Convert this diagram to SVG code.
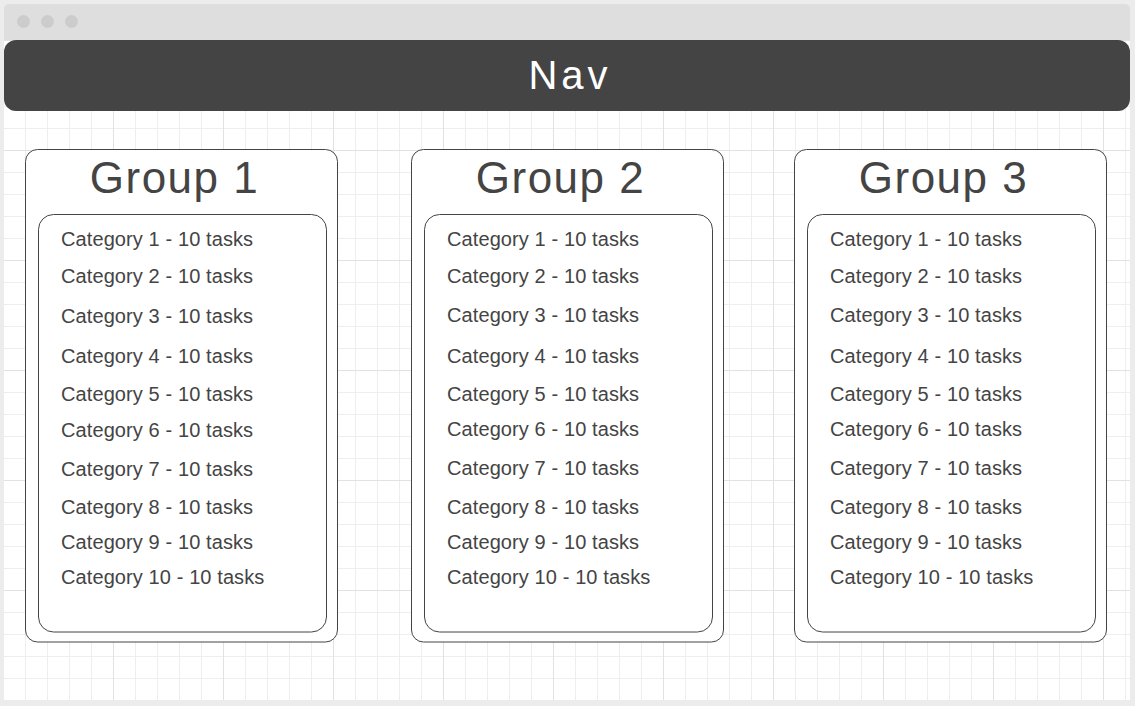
<svg xmlns="http://www.w3.org/2000/svg" width="1135" height="706" viewBox="0 0 1135 706">
<style>
.outer{fill:#ffffff;stroke:#444444;stroke-width:1}
.inner{fill:#ffffff;stroke:#444444;stroke-width:1}
.title{font-family:"Liberation Sans",Arial,sans-serif;font-size:44px;fill:#444444;text-anchor:middle;letter-spacing:1.5px}
.cat{font-family:"Liberation Sans",Arial,sans-serif;font-size:20px;fill:#444444;letter-spacing:0.1px}
.nav{font-family:"Liberation Sans",Arial,sans-serif;font-size:40px;fill:#ffffff;text-anchor:middle;letter-spacing:4px}
.dot{fill:#cccccc}
</style>
<defs>
<pattern id="grid" patternUnits="userSpaceOnUse" x="3" y="40" width="110" height="110">
<path d="M22.5 0V110M44.5 0V110M66.5 0V110M88.5 0V110M0 22.5H110M0 44.5H110M0 66.5H110M0 88.5H110" stroke="#eeeeee" stroke-width="1" fill="none"/>
<path d="M0.5 0V110M0 0.5H110" stroke="#e2e2e2" stroke-width="1" fill="none"/>
</pattern>
</defs>
<rect x="0" y="0" width="1135" height="706" fill="#ececec"/>
<g id="window">
<path d="M4 9a5 5 0 0 1 5-5H1125a5 5 0 0 1 5 5V40H4Z" fill="#dedede"/>
<rect x="4" y="40" width="1126" height="660" fill="#ffffff"/>
<rect x="4" y="40" width="1126" height="660" fill="url(#grid)"/>
<circle class="dot" cx="23.5" cy="21.5" r="6.5"/>
<circle class="dot" cx="47.5" cy="21.5" r="6.5"/>
<circle class="dot" cx="71.5" cy="21.5" r="6.5"/>
</g>
<g id="nav">
<rect x="4" y="40" width="1126" height="71" rx="12" fill="#444444"/>
<text class="nav" x="570" y="89">Nav</text>
</g>
<g id="group1">
<rect class="outer" x="25.5" y="149.5" width="312" height="492.5" rx="12"/>
<text class="title" x="174.5" y="192.5">Group 1</text>
<rect class="inner" x="38.5" y="214.5" width="288" height="417.5" rx="15"/>
<text class="cat" x="61" y="245.5">Category 1 - 10 tasks</text>
<text class="cat" x="61" y="283">Category 2 - 10 tasks</text>
<text class="cat" x="61" y="322.5">Category 3 - 10 tasks</text>
<text class="cat" x="61" y="362.5">Category 4 - 10 tasks</text>
<text class="cat" x="61" y="401">Category 5 - 10 tasks</text>
<text class="cat" x="61" y="437">Category 6 - 10 tasks</text>
<text class="cat" x="61" y="476">Category 7 - 10 tasks</text>
<text class="cat" x="61" y="514">Category 8 - 10 tasks</text>
<text class="cat" x="61" y="549">Category 9 - 10 tasks</text>
<text class="cat" x="61" y="584">Category 10 - 10 tasks</text>
</g>
<g id="group2">
<rect class="outer" x="411.5" y="149.5" width="312" height="492.5" rx="12"/>
<text class="title" x="560.5" y="192.5">Group 2</text>
<rect class="inner" x="424.5" y="214.5" width="288" height="417.5" rx="15"/>
<text class="cat" x="447" y="245.5">Category 1 - 10 tasks</text>
<text class="cat" x="447" y="283">Category 2 - 10 tasks</text>
<text class="cat" x="447" y="321.5">Category 3 - 10 tasks</text>
<text class="cat" x="447" y="362.5">Category 4 - 10 tasks</text>
<text class="cat" x="447" y="401">Category 5 - 10 tasks</text>
<text class="cat" x="447" y="436">Category 6 - 10 tasks</text>
<text class="cat" x="447" y="475">Category 7 - 10 tasks</text>
<text class="cat" x="447" y="514">Category 8 - 10 tasks</text>
<text class="cat" x="447" y="549">Category 9 - 10 tasks</text>
<text class="cat" x="447" y="584">Category 10 - 10 tasks</text>
</g>
<g id="group3">
<rect class="outer" x="794.5" y="149.5" width="312" height="492.5" rx="12"/>
<text class="title" x="943.5" y="192.5">Group 3</text>
<rect class="inner" x="807.5" y="214.5" width="288" height="417.5" rx="15"/>
<text class="cat" x="830" y="245.5">Category 1 - 10 tasks</text>
<text class="cat" x="830" y="283">Category 2 - 10 tasks</text>
<text class="cat" x="830" y="321.5">Category 3 - 10 tasks</text>
<text class="cat" x="830" y="362.5">Category 4 - 10 tasks</text>
<text class="cat" x="830" y="401">Category 5 - 10 tasks</text>
<text class="cat" x="830" y="436">Category 6 - 10 tasks</text>
<text class="cat" x="830" y="475">Category 7 - 10 tasks</text>
<text class="cat" x="830" y="514">Category 8 - 10 tasks</text>
<text class="cat" x="830" y="549">Category 9 - 10 tasks</text>
<text class="cat" x="830" y="584">Category 10 - 10 tasks</text>
</g>
<g id="connectors"/>
</svg>
